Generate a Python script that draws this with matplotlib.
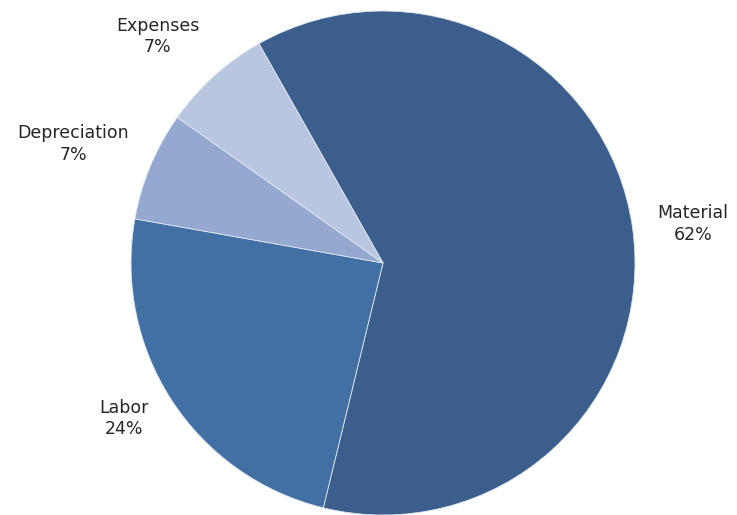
import matplotlib.pyplot as plt

# cost breakdown
categories = ["Material", "Labor", "Depreciation", "Expenses"]
shares = [62, 24, 7, 7]
colors = ["#3b5e8c", "#4370a4", "#95a8d0", "#bac6e0"]

# label anchor points (data coords, pie radius = 1)
label_pos = {
    "Material": (1.230, 0.155),
    "Labor": (-1.028, -0.617),
    "Depreciation": (-1.230, 0.472),
    "Expenses": (-0.895, 0.899),
}

fig = plt.figure(figsize=(7.37, 5.15), dpi=100)
ax = fig.add_axes([131 / 737, 0, 504 / 737, 504 / 515])

ax.pie(
    shares,
    colors=colors,
    startangle=119.5,
    counterclock=False,
    wedgeprops=dict(edgecolor="#dfe6f0", linewidth=0.6),
)

for name, val in zip(categories, shares):
    x, y = label_pos[name]
    ax.text(x, y, f"{name}\n{val}%", ha="center", va="center",
            fontsize=12.5, family="DejaVu Sans", color="#262626",
            linespacing=1.25, clip_on=False)

ax.set_xlim(-1, 1)
ax.set_ylim(-1, 1)
ax.set_aspect("equal")
ax.axis("off")

fig.savefig("out.png", dpi=100)
